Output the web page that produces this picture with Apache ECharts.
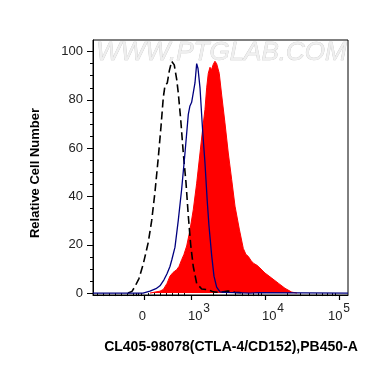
<!DOCTYPE html>
<html><head><meta charset="utf-8">
<script src="https://cdn.jsdelivr.net/npm/echarts@6/dist/echarts.min.js"></script>
<style>html,body{margin:0;padding:0;background:#fff}#c{width:370px;height:367px}</style>
</head><body><div id="c"></div>
<script>
// x values are in display (biexponential) decade units: 3 = 10^3, 4 = 10^4, 5 = 10^5
const controlX = [2.149,2.203,2.243,2.297,2.355,2.423,2.469,2.514,2.558,2.595,2.626,2.649,2.680,2.707,2.739,2.774,2.807,2.828,2.861,2.896,2.932,2.964,2.996,3.031,3.077,3.145,3.234,3.301,3.392,3.500,3.595,3.730];
const controlY = [0,0.7,2.7,6,12,21,30,42,56,69,81,86,87,92,96,94.5,88.5,83,72,58,46,32,20,11,4,1.7,1.4,0.5,0.3,0.8,0.3,0];

const unstainedX = [1.676,2.351,2.446,2.527,2.581,2.635,2.676,2.716,2.743,2.784,2.828,2.874,2.919,2.964,2.986,3.009,3.031,3.054,3.077,3.095,3.122,3.158,3.189,3.220,3.243,3.280,3.311,3.347,3.392,3.459,3.595,3.797,3.932,5.122];
const unstainedY = [0,0,0.8,1.8,3,5.5,8,11,14,19,30,43,58,74,77.5,79,79.5,87,95,93,85,67,54,38,28,15.5,7,2.5,0.5,0.3,0.2,0,0.2,0];

const stainedX = [2.446,2.514,2.581,2.626,2.676,2.716,2.757,2.807,2.838,2.874,2.905,2.942,2.986,3.031,3.077,3.122,3.158,3.189,3.212,3.234,3.257,3.277,3.301,3.324,3.347,3.382,3.415,3.459,3.504,3.550,3.595,3.653,3.707,3.743,3.774,3.811,3.842,3.892,3.932,4.000,4.091,4.180,4.270,4.361,4.432];
const stainedY = [0,0.4,0.8,1.5,4,7,8.5,9.7,11,13.8,16,19.5,26,34.5,45.5,58,68,76,85,91,93.5,92.5,94.7,96,95,91,82,70.5,58,47,36,26.5,18.5,16,15.2,13.5,12.4,11.5,10.4,8.3,6.2,4.1,2,0.4,0];

const xMajorTicks = [2.365, 3, 4, 5];
const xMajorLabels = ['0', '10|3', '10|4', '10|5'];
const xLinearMinorTicks = [1.730,1.811,1.892,1.973,2.054,2.135,2.216,2.257,2.291,2.324,2.419,2.500,2.581,2.662,2.743,2.824,2.905];
const yMajorTicks = [0,20,40,60,80,100];
const yMinorTicks = [5,10,15,25,30,35,45,50,55,65,70,75,85,90,95];

const xMin = 1.676, xMax = 5.122, yMin = -0.8, yMax = 104.8;
const FONT = "'Liberation Sans', Arial, Helvetica, sans-serif";

const xLogMinor = [];
[3,4].forEach(d => { for (let k = 2; k <= 9; k++) xLogMinor.push(d + Math.log10(k)); });
const xMinorTicks = xLinearMinorTicks.concat(xLogMinor);

const toPairs = (xs, ys) => xs.map((x, i) => [x, ys[i]]);

const chart = echarts.init(document.getElementById('c'), null, {renderer: 'canvas'});
chart.setOption({
  animation: false,
  backgroundColor: '#fff',
  grid: {left: 93, top: 40, width: 255, height: 255, show: true, borderColor: '#000', borderWidth: 1, backgroundColor: 'transparent'},
  xAxis: [
    {type: 'value', min: xMin, max: xMax, position: 'bottom',
     axisLine: {show: true, onZero: false, lineStyle: {color: '#000', width: 1}},
     splitLine: {show: false},
     axisTick: {show: true, length: 5, customValues: xMajorTicks, lineStyle: {color: '#000', width: 1.2}},
     axisLabel: {show: true, margin: 8, customValues: xMajorTicks, color: '#222', fontFamily: FONT,
       formatter: v => {
         const i = xMajorTicks.findIndex(t => Math.abs(t - v) < 1e-6);
         const s = i >= 0 ? xMajorLabels[i] : '';
         if (s.indexOf('|') < 0) return '{z|' + s + '}';
         const p = s.split('|');
         if (i === xMajorTicks.length - 1) return '{b|' + p[0] + '}{e|' + p[1] + '}';
         return '{m|' + p[0] + '}{s|' + p[1] + '}';
       },
       rich: {
         z: {fontSize: 13, fontFamily: FONT, color: '#222', lineHeight: 20, verticalAlign: 'bottom', padding: [0, 3, 0, 0]},
         b: {fontSize: 13, fontFamily: FONT, color: '#222', lineHeight: 20, verticalAlign: 'bottom'},
         m: {fontSize: 13, fontFamily: FONT, color: '#222', lineHeight: 20, verticalAlign: 'bottom', padding: [0, 0, 0, 16]},
         s: {fontSize: 12, fontFamily: FONT, color: '#222', lineHeight: 20, verticalAlign: 'top', padding: [0, 0, 0, 1]},
         e: {fontSize: 12, fontFamily: FONT, color: '#222', lineHeight: 20, verticalAlign: 'top', padding: [0, 0, 0, 1]}
       }}},
    {type: 'value', min: xMin, max: xMax, position: 'bottom',
     axisLine: {show: false}, splitLine: {show: false}, axisLabel: {show: false},
     axisTick: {show: true, length: 3, customValues: xMinorTicks, lineStyle: {color: '#000', width: 1}}}
  ],
  yAxis: [
    {type: 'value', min: yMin, max: yMax, position: 'left',
     axisLine: {show: true, onZero: false, lineStyle: {color: '#000', width: 1}},
     splitLine: {show: false},
     axisTick: {show: true, length: 6, customValues: yMajorTicks, lineStyle: {color: '#000', width: 1}},
     axisLabel: {show: true, margin: 10, customValues: yMajorTicks, color: '#222', fontSize: 13, fontFamily: FONT}},
    {type: 'value', min: yMin, max: yMax, position: 'left',
     axisLine: {show: false}, splitLine: {show: false}, axisLabel: {show: false},
     axisTick: {show: true, length: 3, customValues: yMinorTicks, lineStyle: {color: '#000', width: 1}}}
  ],
  graphic: [
    {type: 'text', left: 96, top: 39, z: 0, silent: true,
     style: {text: 'WWW.PTGLAB.COM', font: 'italic 26px ' + FONT, fill: '#efefef', stroke: '#c4c4c4', lineWidth: 0.6}},
    {type: 'text', x: 35, y: 173, rotation: Math.PI / 2, silent: true,
     style: {text: 'Relative Cell Number', font: 'bold 13px ' + FONT, fill: '#000', align: 'center', verticalAlign: 'middle'}},
    {type: 'text', x: 231, y: 347, silent: true,
     style: {text: 'CL405-98078(CTLA-4/CD152),PB450-A', font: 'bold 14px ' + FONT, fill: '#000', align: 'center', verticalAlign: 'middle'}}
  ],
  series: [
    {type: 'line', name: 'CTLA-4', data: toPairs(stainedX, stainedY), showSymbol: false, symbol: 'none',
     lineStyle: {color: '#ff0000', width: 1}, areaStyle: {color: '#ff0000', opacity: 1}, z: 2},
    {type: 'line', name: 'Isotype', data: toPairs(controlX, controlY), showSymbol: false, symbol: 'none',
     lineStyle: {color: '#000', width: 1.6, type: [8, 4]}, z: 3},
    {type: 'line', name: 'Unstained', data: toPairs(unstainedX, unstainedY), showSymbol: false, symbol: 'none',
     lineStyle: {color: '#00007f', width: 1.3}, z: 4}
  ]
});
</script></body></html>
